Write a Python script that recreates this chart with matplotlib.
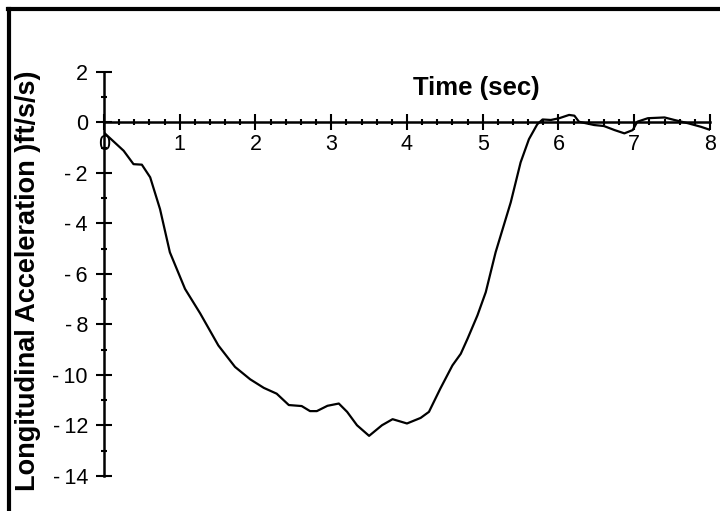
import matplotlib.pyplot as plt
from matplotlib.lines import Line2D
from matplotlib.ticker import MultipleLocator

# longitudinal acceleration trace, read at irregular time steps
time_sec = [0.00, 0.26, 0.39, 0.50, 0.61, 0.74, 0.87, 1.07, 1.27, 1.51, 1.73, 1.93,
            2.11, 2.28, 2.44, 2.61, 2.72, 2.81, 2.95, 3.10, 3.21, 3.34, 3.50, 3.67,
            3.81, 4.00, 4.18, 4.29, 4.44, 4.60, 4.71, 4.80, 4.93, 5.04, 5.17, 5.37,
            5.50, 5.61, 5.72, 5.79, 5.90, 6.01, 6.14, 6.21, 6.27, 6.47, 6.60, 6.74,
            6.87, 6.98, 7.04, 7.18, 7.40, 7.53, 7.71, 7.88, 8.01]
accel_fts2 = [-0.40, -1.12, -1.65, -1.67, -2.17, -3.43, -5.14, -6.59, -7.56, -8.83, -9.68, -10.17,
              -10.51, -10.74, -11.19, -11.23, -11.43, -11.43, -11.22, -11.13, -11.46, -11.99, -12.41, -11.99,
              -11.75, -11.92, -11.70, -11.46, -10.54, -9.62, -9.16, -8.56, -7.64, -6.72, -5.14, -3.16,
              -1.58, -0.66, -0.07, 0.12, 0.10, 0.17, 0.30, 0.27, 0.03, -0.10, -0.14, -0.30,
              -0.43, -0.30, 0.03, 0.17, 0.20, 0.10, -0.03, -0.17, -0.30]

x_ticks = [0, 1, 2, 3, 4, 5, 6, 7, 8]
y_ticks = [2, 0, -2, -4, -6, -8, -10, -12, -14]

TICK_FONT = ["Liberation Sans Narrow", "Liberation Sans", "DejaVu Sans"]
LABEL_FONT = ["Liberation Sans", "DejaVu Sans"]


def draw_chart():
    fig = plt.figure(figsize=(7.2, 5.11), dpi=100)
    ax = fig.add_axes([0.1444, 0.0685, 0.8417, 0.7906])

    ax.plot(time_sec, accel_fts2, color="black", lw=1.6)

    ax.set_xlim(0, 8)
    ax.set_ylim(-14, 2)
    ax.spines["left"].set_position(("data", 0))
    ax.spines["bottom"].set_position(("data", 0))
    ax.spines["top"].set_visible(False)
    ax.spines["right"].set_visible(False)
    for s in ("left", "bottom"):
        ax.spines[s].set_linewidth(1.8)

    ax.set_xticks(x_ticks)
    ax.set_yticks(y_ticks)
    ax.set_xticklabels([str(v) for v in x_ticks])
    # the old plot spaced the minus sign off from the digits
    ax.set_yticklabels([str(v).replace("-", "-\u2009") for v in y_ticks])
    ax.xaxis.set_minor_locator(MultipleLocator(0.2))
    ax.yaxis.set_minor_locator(MultipleLocator(1))
    ax.tick_params(which="major", direction="inout", length=11, width=1.5,
                   labelsize=15.5)
    ax.tick_params(axis="x", which="major", pad=3)
    ax.tick_params(axis="y", which="major", pad=6)
    ax.tick_params(which="minor", direction="inout", length=4.5, width=1.5)
    for lab in ax.get_xticklabels() + ax.get_yticklabels():
        lab.set_family(TICK_FONT)

    fig.text(0.661, 0.828, "Time (sec)", fontsize=18.5, fontweight="bold",
             family=LABEL_FONT, ha="center", va="center")
    fig.text(0.039, 0.45, "Longitudinal Acceleration )ft/s/s)", fontsize=19.5,
             fontweight="bold", family=LABEL_FONT, rotation=90,
             ha="center", va="center")

    # page border left over on the sheet
    fig.add_artist(Line2D([0.011, 1.0], [0.983, 0.983], color="black", lw=3,
                          transform=fig.transFigure))
    fig.add_artist(Line2D([0.012, 0.012], [0.0, 0.983], color="black", lw=3,
                          transform=fig.transFigure))

    fig.savefig("out.png", dpi=100)
    plt.close(fig)


def main():
    draw_chart()


if __name__ == "__main__":
    main()
